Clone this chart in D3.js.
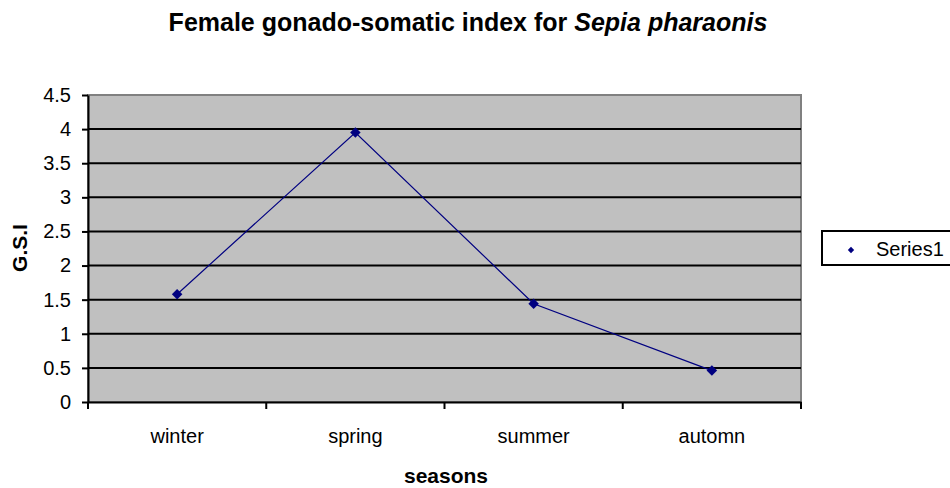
<!DOCTYPE html>
<html>
<head>
<meta charset="utf-8">
<script src="https://cdn.jsdelivr.net/npm/d3@7"></script>
<style>
  body { margin: 0; background: #fff; }
  text { font-family: "Liberation Sans", Arial, sans-serif; }
</style>
</head>
<body>
<div id="chart"></div>
<script>
const seasons = ["winter", "spring", "summer", "automn"];
const gsi = [1.58, 3.95, 1.44, 0.46];
const yTicks = [0, 0.5, 1, 1.5, 2, 2.5, 3, 3.5, 4, 4.5];
const seriesName = "Series1";

const W = 950, H = 488;
const mg = { left: 88, right: 149, top: 95, bottom: 86 };

const svg = d3.select("#chart").append("svg")
  .attr("width", W)
  .attr("height", H);

const x = d3.scaleBand()
  .domain(seasons)
  .range([mg.left, W - mg.right]);

const y = d3.scaleLinear()
  .domain([0, 4.5])
  .range([H - mg.bottom, mg.top]);

// plot background
svg.append("rect")
  .attr("x", mg.left)
  .attr("y", mg.top)
  .attr("width", W - mg.right - mg.left)
  .attr("height", H - mg.bottom - mg.top)
  .style("fill", "#c0c0c0")
  .style("stroke", "#808080")
  .style("stroke-width", 2);

// gridlines
svg.selectAll(".grid")
  .data(yTicks.filter(d => d > 0 && d < 4.5))
  .enter().append("line")
  .attr("class", "grid")
  .attr("x1", mg.left)
  .attr("x2", W - mg.right)
  .attr("y1", d => y(d))
  .attr("y2", d => y(d))
  .style("stroke", "#000")
  .style("stroke-width", 2);

// y axis
const yAxis = svg.append("g")
  .attr("transform", `translate(${mg.left},0)`)
  .call(d3.axisLeft(y).tickValues(yTicks).tickSize(6).tickSizeOuter(0).tickFormat(d3.format("")));
yAxis.select(".domain").style("stroke", "#000").style("stroke-width", 2);
yAxis.selectAll(".tick line").style("stroke", "#000").style("stroke-width", 2);
yAxis.selectAll(".tick text")
  .attr("x", -17)
  .style("font-size", "20px")
  .style("font-family", "'Liberation Sans', Arial, sans-serif")
  .style("fill", "#000");

// x axis
const xAxis = svg.append("g")
  .attr("transform", `translate(0,${H - mg.bottom})`)
  .call(d3.axisBottom(x).tickSize(0).tickSizeOuter(0));
xAxis.select(".domain").style("stroke", "#000").style("stroke-width", 2);
xAxis.selectAll(".tick text")
  .attr("dy", 0)
  .attr("y", 41)
  .style("font-size", "20px")
  .style("font-family", "'Liberation Sans', Arial, sans-serif")
  .style("fill", "#000");

// category separator ticks
svg.selectAll(".xtick")
  .data(seasons.concat(["end"]))
  .enter().append("line")
  .attr("class", "xtick")
  .attr("x1", (d, i) => mg.left + i * x.bandwidth())
  .attr("x2", (d, i) => mg.left + i * x.bandwidth())
  .attr("y1", H - mg.bottom)
  .attr("y2", H - mg.bottom + 7)
  .style("stroke", "#000")
  .style("stroke-width", 2);

// line
const line = d3.line()
  .x((d, i) => x(seasons[i]) + x.bandwidth() / 2)
  .y(d => y(d));

svg.append("path")
  .datum(gsi)
  .attr("d", line)
  .style("fill", "none")
  .style("stroke", "#000080")
  .style("stroke-width", 1.2);

const marker = d3.symbol().type(d3.symbolSquare).size(55);

svg.selectAll(".pt")
  .data(gsi)
  .enter().append("path")
  .attr("class", "pt")
  .attr("d", marker)
  .attr("transform", (d, i) => `translate(${x(seasons[i]) + x.bandwidth() / 2},${y(d)}) rotate(45)`)
  .style("fill", "#000080");

// title
const title = svg.append("text")
  .attr("x", 468)
  .attr("y", 31)
  .attr("text-anchor", "middle")
  .style("font-size", "25px")
  .style("font-weight", "bold");
title.append("tspan").text("Female gonado-somatic index for ");
title.append("tspan").style("font-style", "italic").text("Sepia pharaonis");

// axis titles
svg.append("text")
  .attr("x", 446)
  .attr("y", 483)
  .attr("text-anchor", "middle")
  .style("font-size", "21px")
  .style("font-weight", "bold")
  .text("seasons");

svg.append("text")
  .attr("transform", "translate(27,248) rotate(-90)")
  .attr("text-anchor", "middle")
  .style("font-size", "21px")
  .style("font-weight", "bold")
  .text("G.S.I");

// legend
const lg = svg.append("g").attr("transform", "translate(822,231)");
lg.append("rect")
  .attr("width", 130)
  .attr("height", 34)
  .style("fill", "#fff")
  .style("stroke", "#000")
  .style("stroke-width", 2);
lg.append("path")
  .attr("d", d3.symbol().type(d3.symbolSquare).size(20))
  .attr("transform", "translate(29,19) rotate(45)")
  .style("fill", "#000080");
lg.append("text")
  .attr("x", 54)
  .attr("y", 25)
  .style("font-size", "20px")
  .text(seriesName);
</script>
</body>
</html>
